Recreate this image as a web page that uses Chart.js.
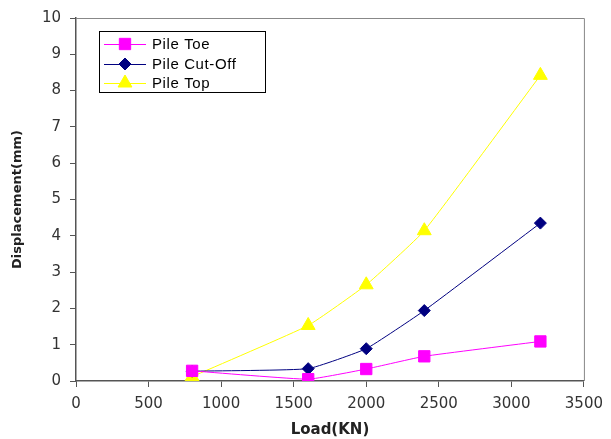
<!DOCTYPE html>
<html>
<head>
<meta charset="utf-8">
<script src="https://cdn.jsdelivr.net/npm/chart.js@4.4.0/dist/chart.umd.min.js"></script>
<style>
html,body{margin:0;padding:0;background:#fff;}
#wrap{width:611px;height:439px;position:relative;}
</style>
</head>
<body>
<div id="wrap"><canvas id="c" width="611" height="439"></canvas></div>
<script>
const loads = [800, 1600, 2000, 2400, 3200];
const pileToe = [0.28, 0.05, 0.33, 0.68, 1.09];
const pileCutOff = [0.27, 0.34, 0.89, 1.94, 4.35];
const pileTop = [0.12, 1.53, 2.65, 4.14, 8.42];
const seriesNames = ['Pile Toe', 'Pile Cut-Off', 'Pile Top'];
const xTitle = 'Load(KN)';
const yTitle = 'Displacement(mm)';

function pts(vals){ return loads.map((x,i)=>({x:x,y:vals[i]})); }

const tickFont = {family:'"DejaVu Sans", sans-serif', size:15};
const titleFont = {family:'"DejaVu Sans", sans-serif', size:13, weight:'bold'};
const xTitleFont = {family:'"DejaVu Sans", sans-serif', size:15, weight:'bold'};

const legendPlugin = {
  id:'insideLegend',
  afterDraw(chart){
    const ctx = chart.ctx;
    const dp = Chart.helpers.drawPoint;
    ctx.save();
    ctx.fillStyle = '#fff';
    ctx.fillRect(99.5,31.5,166,61);
    ctx.strokeStyle = '#000';
    ctx.lineWidth = 1;
    ctx.strokeRect(99.5,31.5,166,61);
    const rows = [44,64,83];
    chart.data.datasets.forEach((ds,i)=>{
      const y = rows[i];
      ctx.strokeStyle = ds.borderColor;
      ctx.lineWidth = 1;
      ctx.beginPath(); ctx.moveTo(104,y+0.5); ctx.lineTo(146,y+0.5); ctx.stroke();
      ctx.fillStyle = ds.pointBackgroundColor;
      ctx.strokeStyle = ds.pointBorderColor;
      dp(ctx,{pointStyle:ds.pointStyle, radius:ds.pointRadius, rotation:0, borderWidth:1}, 125, y);
      ctx.fillStyle = '#000';
      ctx.font = '15px "Liberation Sans", Arial, sans-serif';
      if ('letterSpacing' in ctx) ctx.letterSpacing = '0.6px';
      ctx.textBaseline = 'middle';
      ctx.textAlign = 'left';
      ctx.fillText(ds.label, 152, y+1);
    });
    ctx.restore();
  }
};

const frame = {
  id:'frame',
  beforeDatasetsDraw(chart){
    const a = chart.chartArea, ctx = chart.ctx;
    ctx.save();
    ctx.strokeStyle = '#888';
    ctx.lineWidth = 1;
    ctx.beginPath();
    ctx.moveTo(a.left, a.top+0.5); ctx.lineTo(a.right+0.5, a.top+0.5); ctx.lineTo(a.right+0.5, a.bottom);
    ctx.stroke();
    ctx.restore();
  }
};

new Chart(document.getElementById('c'), {
  type:'line',
  data:{
    datasets:[
      {label:seriesNames[0], data:pts(pileToe), borderColor:'#FF00FF', backgroundColor:'#FF00FF',
       pointBackgroundColor:'#FF00FF', pointBorderColor:'#FF00FF', pointStyle:'rect', pointRadius:8, borderWidth:1},
      {label:seriesNames[1], data:pts(pileCutOff), borderColor:'#000080', backgroundColor:'#000080',
       pointBackgroundColor:'#000080', pointBorderColor:'#000080', pointStyle:'rectRot', pointRadius:6, borderWidth:1},
      {label:seriesNames[2], data:pts(pileTop), borderColor:'#FFFF00', backgroundColor:'#FFFF00',
       pointBackgroundColor:'#FFFF00', pointBorderColor:'#FFFF00', pointStyle:'triangle', pointRadius:8, borderWidth:1}
    ]
  },
  options:{
    responsive:false,
    animation:false,
    layout:{padding:{top:15,right:23,left:10,bottom:0}},
    plugins:{legend:{display:false}, tooltip:{enabled:false}},
    elements:{line:{tension:0.12}},
    scales:{
      x:{
        type:'linear', min:0, max:3500,
        ticks:{stepSize:500, color:'#333', font:tickFont, padding:8, maxRotation:0,
               callback:(v)=>String(v)},
        grid:{display:true, drawOnChartArea:false, drawTicks:true, tickLength:6, color:'#555'},
        border:{display:true, color:'#555', width:1.5},
        title:{display:true, text:xTitle, color:'#222', font:xTitleFont, padding:{top:3,bottom:0}},
        afterFit(s){ s.height = 58; }
      },
      y:{
        min:0, max:10,
        ticks:{stepSize:1, color:'#333', font:tickFont, padding:9, callback:(v)=>String(v)},
        grid:{display:true, drawOnChartArea:false, drawTicks:true, tickLength:6, color:'#555'},
        border:{display:true, color:'#555', width:1.5},
        title:{display:true, text:yTitle, color:'#222', font:titleFont, padding:{top:0,bottom:4}},
        afterFit(s){ s.width = 66; }
      }
    }
  },
  plugins:[frame, legendPlugin]
});
</script>
</body>
</html>
